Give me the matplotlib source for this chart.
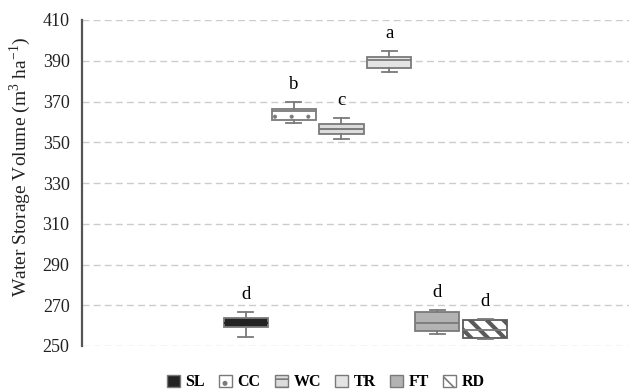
import matplotlib
matplotlib.use("Agg")
import matplotlib.pyplot as plt
from matplotlib.patches import Patch

# ================= DATA =================
treatments = ["SL", "CC", "WC", "TR", "FT", "RD"]
whisker_low = [254.3, 359.3, 351.6, 384.6, 256.0, 253.4]
q1 = [259.2, 360.9, 354.0, 386.3, 257.5, 254.1]
median = [261.5, 365.5, 356.4, 390.5, 261.1, 258.0]
q3 = [263.9, 366.2, 358.8, 391.7, 266.5, 262.6]
whisker_high = [266.5, 369.6, 362.0, 394.9, 267.5, 263.3]
letters = ["d", "b", "c", "a", "d", "d"]
# ========================================

faces = ["#232323", "#ffffff", "#dcdcdc", "#e4e4e4", "#b3b3b3", "#ffffff"]
hatches = [None, ".", "--", None, None, "\\\\"]
hatch_lw = [1.0, 0.5, 1.2, 1.0, 1.0, 3.0]
edge = "#7a7a7a"

plt.rcParams["font.family"] = ["Liberation Serif", "DejaVu Serif"]
plt.rcParams["mathtext.fontset"] = "custom"
plt.rcParams["mathtext.rm"] = "Liberation Serif"
plt.rcParams["hatch.linewidth"] = 1.2

fig = plt.figure(figsize=(6.29, 3.91), dpi=100)
ax = fig.add_axes([82 / 629, 1 - 346 / 391, 1 - 82 / 629, (346 - 20) / 391])

stats = []
for i, name in enumerate(treatments):
    stats.append({
        "label": name, "whislo": whisker_low[i], "q1": q1[i], "med": median[i],
        "q3": q3[i], "whishi": whisker_high[i], "fliers": [],
    })

positions = list(range(1, len(treatments) + 1))
bp = ax.bxp(stats, positions=positions, widths=0.92, capwidths=0.32,
            patch_artist=True, showfliers=False,
            boxprops=dict(edgecolor=edge, linewidth=1.3),
            whiskerprops=dict(color=edge, linewidth=1.3),
            capprops=dict(color=edge, linewidth=1.3),
            medianprops=dict(color=edge, linewidth=1.3))

for box, fc, h, hl in zip(bp["boxes"], faces, hatches, hatch_lw):
    box.set_facecolor(fc)
    if h:
        box.set_hatch(h)
        if hasattr(box, "set_hatch_linewidth"):
            box.set_hatch_linewidth(hl)
bp["boxes"][5].set_edgecolor("#5a5a5a")
bp["medians"][0].set_color(faces[0])

for x, top, lab in zip(positions, whisker_high, letters):
    ax.text(x, top + 4.5, lab, ha="center", va="bottom", fontsize=13.5)

ax.set_xlim(-2.415, 9.0)
ax.set_ylim(250, 410)
ax.set_yticks(range(250, 411, 20))
ax.set_xticks([])
ax.tick_params(axis="y", length=0, pad=9, labelsize=13, colors="#222222")
ax.yaxis.grid(True, linestyle=(0, (5, 3)), color="#cccccc", linewidth=1.0)
ax.set_axisbelow(True)
for s in ["top", "right", "bottom"]:
    ax.spines[s].set_visible(False)
ax.spines["left"].set_color("#555555")
ax.spines["left"].set_linewidth(1.6)

ax.set_ylabel("Water Storage Volume (m$^{3}$ ha$^{\\mathregular{-1}}$)",
              fontsize=14, color="#222222")
ax.yaxis.set_label_coords(-0.089, 0.55)

handles = []
for fc, h in zip(faces, hatches):
    handles.append(Patch(facecolor=fc, edgecolor=edge, hatch=h, linewidth=1.0))
fig.legend(handles, treatments, loc="lower center", bbox_to_anchor=(0.518, -0.035),
           ncol=6, frameon=False, handlelength=0.8, handleheight=0.8,
           handletextpad=0.35, columnspacing=0.9,
           prop={"weight": "bold", "size": 11.5})

fig.savefig("out.png", dpi=100)
